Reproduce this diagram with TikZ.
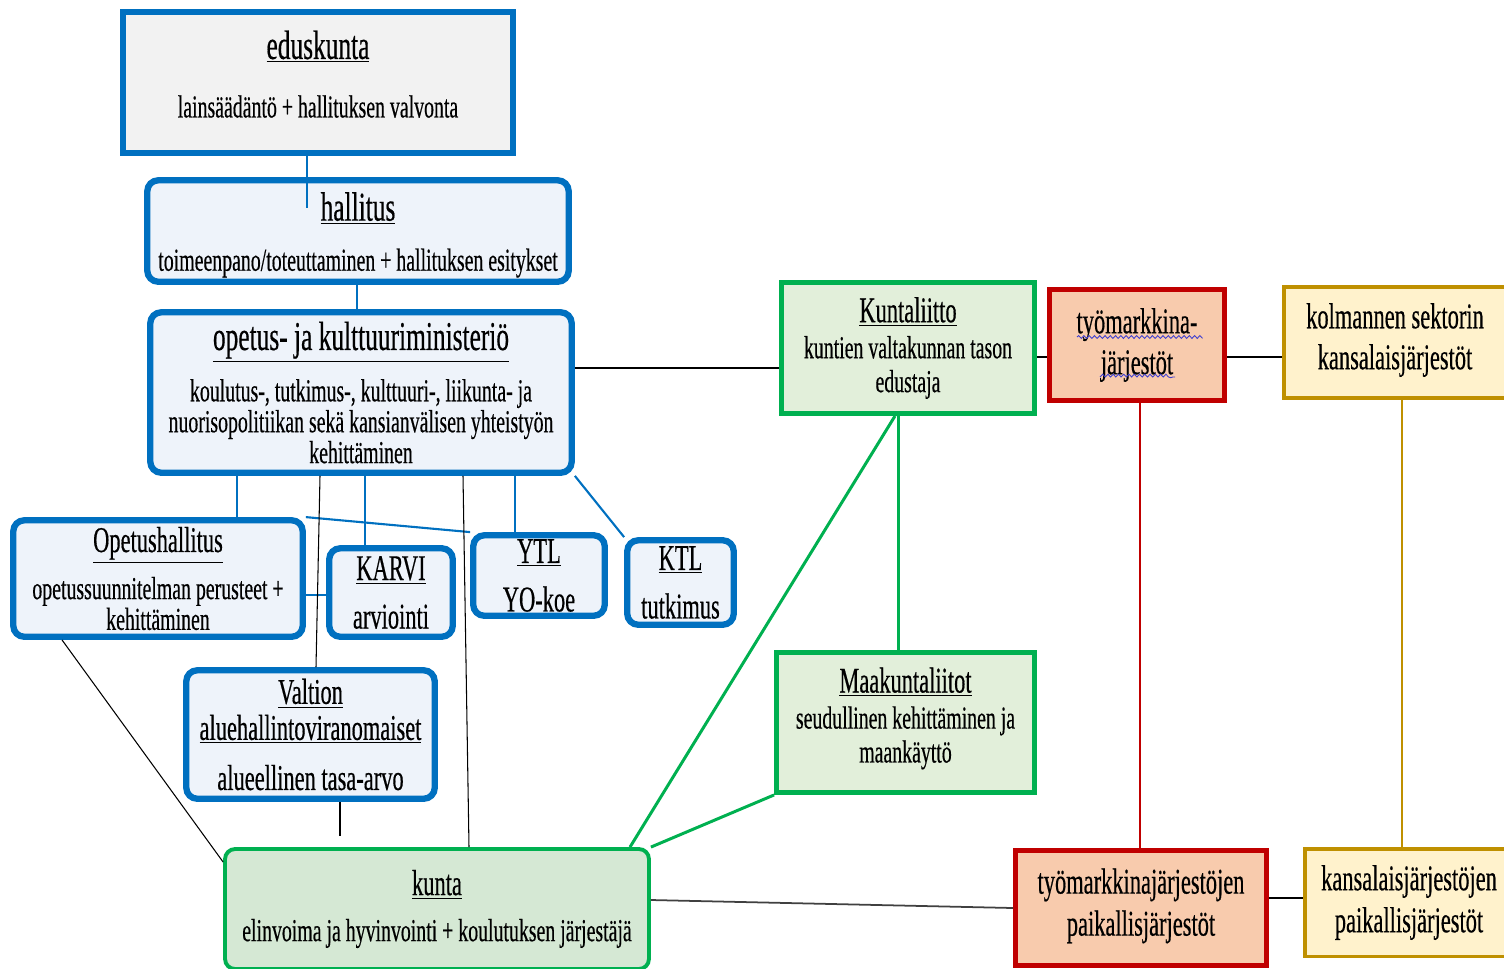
\documentclass[tikz,border=0pt]{standalone}
\usepackage{fontspec}
\setmainfont{Liberation Serif}[FakeStretch=0.62,FakeBold=0.4]
\usepackage{tikz}
\usetikzlibrary{decorations.pathmorphing}

\definecolor{okmblue}{HTML}{0070C0}
\definecolor{edfill}{HTML}{F2F2F2}
\definecolor{blufill}{HTML}{EEF3FA}
\definecolor{kgreen}{HTML}{00B050}
\definecolor{kuntafill}{HTML}{D5E8D4}
\definecolor{liitfill}{HTML}{E2EFDA}
\definecolor{tred}{HTML}{C00000}
\definecolor{tfill}{HTML}{F8CBAD}
\definecolor{kolmgold}{HTML}{BF9000}
\definecolor{goldfill}{HTML}{FFF2CC}
\definecolor{spellblue}{HTML}{3F3FD0}

\newcommand\ttlfont{\fontsize{23.3pt}{28pt}\selectfont}
\newcommand\midfont{\fontsize{20.6pt}{24pt}\selectfont}
% struts to move the text inside a box
\newcommand\lift[1]{\rule[-#1]{0pt}{#1}}
\newcommand\sink[1]{\rule{0pt}{#1}}

\tikzset{
  orgbox/.style={align=center, inner sep=0pt, text=black},
  edbox/.style={orgbox, draw=okmblue, fill=edfill, line width=3.6pt},
  blubox/.style={orgbox, draw=okmblue, fill=blufill, line width=3.6pt, rounded corners=0.22cm},
  kuntabox/.style={orgbox, draw=kgreen, fill=kuntafill, line width=2.2pt, rounded corners=0.2cm},
  grnbox/.style={orgbox, draw=kgreen, fill=liitfill, line width=2.8pt},
  redbox/.style={orgbox, draw=tred, fill=tfill, line width=2.8pt},
  goldbox/.style={orgbox, draw=kolmgold, fill=goldfill, line width=2pt},
  bluln/.style={okmblue, line width=1.2pt},
  blkln/.style={black, line width=0.6pt},
  grnln/.style={kgreen, line width=1.7pt},
}

\begin{document}
\begin{tikzpicture}[x=0.02cm,y=-0.02cm]
    \useasboundingbox (0,0) rectangle (1504,968);

    % valtion taso
    \node[edbox, minimum width=7.79cm, minimum height=2.81cm, font=\fontsize{18.2pt}{22pt}\selectfont] (edus) at (318,82.5)
        {{\ttlfont\underline{eduskunta}}\\[11.3pt] lainsäädäntö + hallituksen valvonta\lift{9.7pt}};
    \node[blubox, minimum width=8.43cm, minimum height=2.03cm, font=\fontsize{18.2pt}{22pt}\selectfont] (hall) at (358,231)
        {{\ttlfont\sink{20.6pt}\underline{hallitus}}\\[6.5pt] toimeenpano/toteuttaminen + hallituksen esitykset};
    \node[blubox, minimum width=8.43cm, minimum height=3.21cm, font=\fontsize{18.2pt}{17.6pt}\selectfont] (okm) at (361,392.5)
        {{\ttlfont\underline{opetus- ja kulttuuriministeriö}}\\[8.6pt]
         koulutus-, tutkimus-, kulttuuri-, liikunta- ja\\
         nuorisopolitiikan sekä kansianvälisen yhteistyön\\
         kehittäminen};

    % virastot
    \node[blubox, minimum width=5.79cm, minimum height=2.33cm, font=\fontsize{18.2pt}{16.5pt}\selectfont] (opeh) at (158,578.5)
        {{\midfont\underline{Opetushallitus}}\\[6.8pt] opetussuunnitelman perusteet +\\ kehittäminen};
    \node[blubox, minimum width=2.47cm, minimum height=1.77cm, font=\fontsize{20.6pt}{22pt}\selectfont] (karvi) at (391,592.5)
        {\underline{KARVI}\\[5.6pt] arviointi};
    \node[blubox, minimum width=2.63cm, minimum height=1.61cm, font=\fontsize{20.6pt}{22pt}\selectfont] (ytl) at (539,575.5)
        {\underline{YTL}\\[5.6pt] YO-koe};
    \node[blubox, minimum width=2.13cm, minimum height=1.69cm, font=\fontsize{20.6pt}{22pt}\selectfont] (ktl) at (680.5,582.5)
        {\underline{KTL}\\[5.6pt] tutkimus};
    \node[blubox, minimum width=4.97cm, minimum height=2.57cm, font=\fontsize{20.6pt}{20.5pt}\selectfont] (valtion) at (310.5,734.5)
        {\underline{Valtion}\\ \underline{aluehallintoviranomaiset}\\[8pt] alueellinen tasa-arvo};

    % kunnat ja liitot
    \node[kuntabox, minimum width=8.48cm, minimum height=2.4cm, font=\fontsize{18.2pt}{22pt}\selectfont] (kunta) at (437,909)
        {{\midfont\underline{kunta}}\\[4.2pt] elinvoima ja hyvinvointi + koulutuksen järjestäjä};
    \node[grnbox, minimum width=5.06cm, minimum height=2.62cm, font=\fontsize{18.2pt}{19.3pt}\selectfont] (kliitto) at (908,348)
        {{\midfont\underline{Kuntaliitto}}\\[1.2pt] kuntien valtakunnan tason\\ edustaja};
    \node[grnbox, minimum width=5.16cm, minimum height=2.8cm, font=\fontsize{18.2pt}{19.3pt}\selectfont] (maak) at (905.5,722.5)
        {{\midfont\underline{Maakuntaliitot}}\\[1.2pt] seudullinen kehittäminen ja\\ maankäyttö\lift{8.6pt}};

    % järjestöt
    \node[redbox, minimum width=3.5cm, minimum height=2.22cm, font=\fontsize{20.6pt}{23.3pt}\selectfont] (tyom) at (1137,345)
        {työmarkkina-\\ järjestöt};
    \node[goldbox, minimum width=4.45cm, minimum height=2.23cm, font=\fontsize{20.6pt}{23.3pt}\selectfont] (kolm) at (1395,342.5)
        {kolmannen sektorin\\ kansalaisjärjestöt\lift{7.2pt}};
    \node[redbox, minimum width=5.02cm, minimum height=2.3cm, font=\fontsize{20.6pt}{23.9pt}\selectfont] (tpaik) at (1141,908)
        {työmarkkinajärjestöjen\\ paikallisjärjestöt\lift{6.8pt}};
    \node[goldbox, minimum width=4.17cm, minimum height=2.15cm, font=\fontsize{20.6pt}{23.9pt}\selectfont] (kpaik) at (1409,902.5)
        {kansalaisjärjestöjen\\ paikallisjärjestöt};

    % oikoluvun aaltoviivat
    \draw[spellblue, line width=0.5pt, decorate, decoration={snake, amplitude=0.8pt, segment length=3pt}]
        (1077,337) -- (1200,337) (1100,377) -- (1175,377);

    % yhteydet
    \coordinate (hallin) at (307,208);
    \coordinate (valtout) at (340,836);
    \draw[bluln] (edus.south -| 307,0) -- (hallin);
    \draw[bluln] (hall.south -| 357,0) -- (okm.north -| 357,0);
    \draw[bluln] (okm.south -| 237,0) -- (opeh.north -| 237,0);
    \draw[bluln] (okm.south -| 365,0) -- (karvi.north -| 365,0);
    \draw[bluln] (okm.south -| 515,0) -- (ytl.north -| 515,0);
    \draw[bluln] (okm.south east) -- (ktl.north west);
    \draw[bluln] (opeh.north east) -- (ytl.north west);
    \draw[bluln] (opeh.east |- 0,595) -- (karvi.west |- 0,595);

    \draw[blkln] (okm.south -| 320,0) -- (valtion.north -| 316,0);
    \draw[blkln] (okm.south -| 463,0) -- (kunta.north -| 469,0);
    \draw[blkln] (opeh.south -| 62,0) -- (kunta.west |- 0,862);
    \draw[blkln] (valtion.south -| 340,0) -- (valtout);
    \draw[black, line width=0.9pt] (okm.east |- 0,368) -- (kliitto.west |- 0,368);
    \draw[black!75, line width=1pt] (kunta.east |- 0,900) -- (tpaik.west |- 0,908);
    \draw[black, line width=0.9pt] (kliitto.east |- 0,357) -- (tyom.west |- 0,357);
    \draw[black, line width=0.9pt] (tyom.east |- 0,357) -- (kolm.west |- 0,357);
    \draw[black, line width=0.9pt] (tpaik.east |- 0,898) -- (kpaik.west |- 0,898);

    \draw[grnln] (kunta.north -| 630,0) -- (kliitto.south -| 895,0);
    \draw[grnln] (kliitto.south -| 898,0) -- (maak.north -| 898,0);
    \draw[grnln] (kunta.north east) -- (maak.south west);
    \draw[tred, line width=1.1pt] (tyom.south -| 1140,0) -- (tpaik.north -| 1140,0);
    \draw[kolmgold, line width=1.1pt] (kolm.south -| 1402,0) -- (kpaik.north -| 1402,0);
\end{tikzpicture}
\end{document}
